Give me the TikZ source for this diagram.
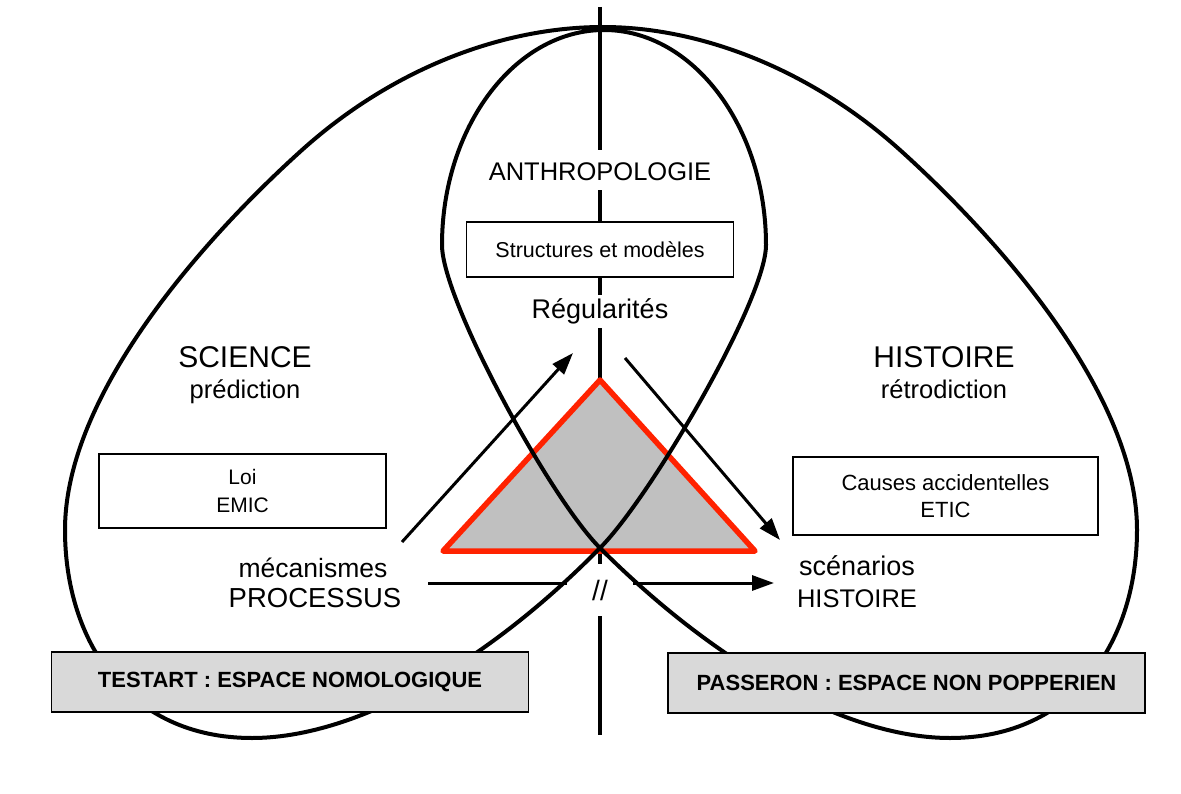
\documentclass[tikz,border=0pt]{standalone}
\usepackage{fontspec}
\setmainfont{Liberation Sans}
\usepackage{tikz}
\usetikzlibrary{positioning,calc,arrows.meta}
\definecolor{TriGray}{HTML}{C0C0C0}
\definecolor{TriRed}{HTML}{FF2200}
\definecolor{BoxGray}{HTML}{D9D9D9}
\newcommand{\setfs}[2]{\fontsize{#1bp}{#2bp}\selectfont}

\begin{document}
\begin{tikzpicture}[x=1bp, y=-1bp,
  ribbon/.style={line width=4bp, line join=round},
  axis/.style={line width=4.5bp},
  flow/.style={line width=3bp, -{Triangle[length=22bp,width=15bp]}},
  labelbox/.style={draw, line width=1.2bp, fill=white, align=center},
  espace/.style={draw, line width=1.5bp, fill=BoxGray, minimum width=477bp,
    minimum height=60bp, font=\setfs{22}{26}\bfseries}]
  \useasboundingbox (0,0) rectangle (1181,794);
  \fill[white] (0,0) rectangle (1181,794);
  \def\axX{600}
  % labels on the vertical axis
  \node[anchor=base, text height=20bp, text depth=0bp, inner ysep=10bp,
    font=\setfs{25.5}{30}] (anthro) at (\axX,180) {ANTHROPOLOGIE};
  \node[labelbox, minimum width=267bp, minimum height=55bp,
    font=\setfs{21.5}{26}] (struct) at (\axX,249.5) {Structures et modèles};
  \node[anchor=base, text height=19bp, text depth=6bp, inner ysep=4bp,
    font=\setfs{27}{32}] (regul) at (\axX,318) {Régularités};
  \node[minimum width=66bp, minimum height=52bp, inner sep=0pt,
    font=\setfs{28}{32}] (cut) at (\axX,590) {//};
  \coordinate (vtop) at (\axX,7);
  \coordinate (apex) at (\axX,380);
  \coordinate (cross) at (\axX,548);
  \coordinate (vbot) at (\axX,735);
  \draw[axis] (vtop) -- (anthro) -- (struct) -- (regul) -- (apex);
  \draw[axis] (cross) -- (cut) -- (vbot);
  % left side
  \node[anchor=base, font=\setfs{30}{36}] (science) at (245,367) {SCIENCE};
  \node[anchor=base, font=\setfs{25.5}{30}] (predic) at (245,398) {prédiction};
  \node[labelbox, minimum width=287bp, minimum height=74bp,
    font=\setfs{21}{28}] (loi) at (242.5,491) {Loi\\EMIC};
  \node[anchor=base, font=\setfs{26.5}{32}] (mecan) at (313,577) {mécanismes};
  \node[anchor=base, font=\setfs{27.5}{32}] (proc) at (315,607) {PROCESSUS};
  % right side
  \node[anchor=base, font=\setfs{30}{36}] (hist) at (944,367) {HISTOIRE};
  \node[anchor=base, font=\setfs{25.5}{30}] (retro) at (944,398) {rétrodiction};
  \node[labelbox, minimum width=305bp, minimum height=78bp,
    font=\setfs{22}{27}] (causes) at (945.5,496) {Causes accidentelles\\ETIC};
  \node[anchor=base, font=\setfs{27}{32}] (scen) at (857,575) {scénarios};
  \node[anchor=base, font=\setfs{25.5}{32}] (histb) at (857,607) {HISTOIRE};
  % arrows
  \coordinate (upS) at (402,542);
  \coordinate (upE) at (573,353);
  \coordinate (dnS) at (625,358);
  \coordinate (dnE) at (780,540);
  \coordinate (hzS) at (428,583);
  \coordinate (hzE) at (774,583);
  \draw[flow] (upS) -- (upE);
  \draw[flow] (dnS) -- (dnE);
  \draw[flow, -] (hzS) -- (hzS -| cut.west);
  \draw[flow] (hzS -| cut.east) -- (hzE);
  % triangle
  \coordinate (triL) at (443,551);
  \coordinate (triR) at (755,551);
  \draw[line width=5.5bp, draw=TriRed, fill=TriGray, line join=round]
    (apex) -- (triL) -- (triR) -- cycle;
  % the ribbon: central lobe, then right and left lobes
  \draw[ribbon] (cross)
    .. controls (650,498) and (766,300) .. (766,245)
    .. controls (766,127) and (693,30) .. (604,30)
    .. controls (515,30) and (442,127) .. (442,245)
    .. controls (442,300) and (550,498) .. (cross)
    .. controls (720,668) and (850,738) .. (950,738)
    .. controls (1075,738) and (1137,640) .. (1137,530)
    .. controls (1137,390) and (990,231) .. (900,150)
    .. controls (810,69) and (700,27) .. (603,27)
    .. controls (502,27) and (392,69) .. (302,150)
    .. controls (212,231) and (65,390) .. (65,530)
    .. controls (65,640) and (127,738) .. (252,738)
    .. controls (352,738) and (482,668) .. cycle;
  % bottom boxes
  \node[espace] (testart) at (290,682) {TESTART : ESPACE NOMOLOGIQUE};
  \node[espace] (passeron) at (906.5,683) {PASSERON : ESPACE NON POPPERIEN};
\end{tikzpicture}
\end{document}
